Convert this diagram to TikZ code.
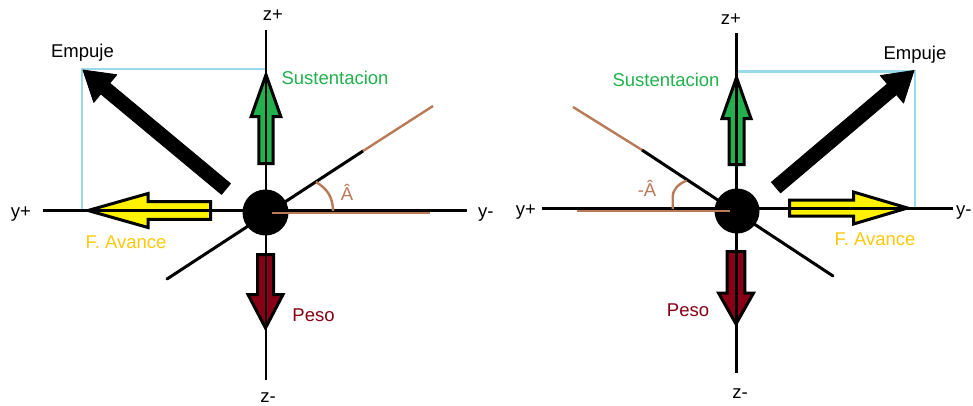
\documentclass[tikz,border=0pt]{standalone}
\usepackage{fontspec}
\setmainfont{Liberation Sans}
\usetikzlibrary{calc}
\definecolor{pgreen}{RGB}{34,177,76}
\definecolor{pred}{RGB}{136,0,21}
\definecolor{pyellow}{RGB}{255,242,0}
\definecolor{pgold}{RGB}{255,201,14}
\definecolor{pbrown}{RGB}{185,122,87}
\definecolor{pblue}{RGB}{153,217,234}
% [#1 style] #2 fill, #3 tail, #4 tip, #5 shaft half width, #6 head half width, #7 head length
\newcommand\blockarr[7][blockarrow]{%
  \path ($(#4)!#7!(#3)$) coordinate (bh);
  \draw[#1, fill=#2] ($(#3)!#5!90:(#4)$) -- ($(bh)!#5!90:(#4)$) -- ($(bh)!#6!90:(#4)$) -- (#4)
    -- ($(bh)!#6!-90:(#4)$) -- ($(bh)!#5!-90:(#4)$) -- ($(#3)!#5!-90:(#4)$) -- cycle;}
\tikzset{
  blockarrow/.style={draw=black, line width=3pt, miter limit=10},
  thrust/.style={draw=black, line width=0.8pt, line join=round},
  axis/.style={draw=black, line width=2.6pt},
  wing/.style={draw=black, line width=3pt},
  brownline/.style={draw=pbrown, line width=2.4pt},
  rectline/.style={draw=pblue, line width=2.2pt},
  lbl/.style={font=\fontsize{18.5}{20}\selectfont, inner sep=0pt, anchor=base},
}
\begin{document}
\begin{tikzpicture}[x=1pt, y=-1pt]
\useasboundingbox (0,0) rectangle (973,405);
\fill[white] (0,0) rectangle (973,405);

% ================= LEFT =================
\coordinate (LC) at (265.5,212.5);
\coordinate (LzT) at (266,30);   \coordinate (LzB) at (266,380);
\coordinate (LyL) at (43,210.5); \coordinate (LyR) at (467,210.5);
\coordinate (LR) at (82,69);     % rectangle corner
\coordinate (LRz) at (266,69);
\coordinate (LRy) at (82,210.5);
% blue rectangle edges
\draw[rectline] (LRy) -- (LR) -- (LRz);
% block arrows
\coordinate (LgT) at (266,163.5); \coordinate (LgP) at (266,74.7);
\blockarr{pgreen}{LgT}{LgP}{7.2pt}{14.8pt}{41.8pt}
\coordinate (LyT) at (210.5,210.5); \coordinate (LyP) at (88,210.5);
\blockarr{pyellow}{LyT}{LyP}{8.8pt}{17pt}{60pt}
\coordinate (LpT) at (265.5,254.5); \coordinate (LpP) at (265.5,328);
\blockarr{pred}{LpT}{LpP}{8pt}{17.5pt}{33.5pt}
% thrust
\coordinate (LeT) at (226,189); \coordinate (LeP) at (83,70);
\blockarr[thrust]{black}{LeT}{LeP}{7pt}{18pt}{29pt}
% axes
\draw[axis] (LzT) -- (LzB);
\draw[axis] (LyL) -- (LyR);
% wing line
\coordinate (LwA) at (167,279); \coordinate (LwB) at (363,151); \coordinate (LwC) at (433,106);
\draw[wing, line cap=round] (LwA) -- (LwB);
\draw[brownline] (LwB) -- (LwC);
% body
\fill[black] (LC) circle (23);
\draw[brownline] (272,212.7) -- (430,212.7);
\draw[brownline] (333,211) .. controls (333,196) and (326,188) .. (316,182);
% labels
\node[lbl] (LzP) at (273,20.7) {z+};
\node[lbl] (LzM) at (268,402) {z-};
\node[lbl] (LyP) at (21,217) {y+};
\node[lbl, anchor=base west] (LyM) at (478,217) {y-};
\node[lbl] (LEm) at (82.5,57.3) {Empuje};
\node[lbl, text=pgreen] (LSu) at (335,84) {Sustentacion};
\node[lbl, text=pgold] (LFa) at (126,248) {F. Avance};
\node[lbl, text=pred] (LPe) at (313.5,321.7) {Peso};
\node[lbl, text=pbrown] (LAn) at (347,200) {Â};

% ================= RIGHT =================
\coordinate (RC) at (737,211);
\coordinate (RzT) at (736.5,33);  \coordinate (RzB) at (736.5,373);
\coordinate (RyL) at (542,208.5); \coordinate (RyR) at (953,208.5);
\coordinate (RR) at (915,71.5);
\coordinate (RRz) at (736.5,71.5);
\coordinate (RRy) at (915,208.5);
\draw[rectline] (RRz) -- (RR) -- (RRy);
\coordinate (RgT) at (736.5,164.5); \coordinate (RgP) at (736.5,77.5);
\blockarr{pgreen}{RgT}{RgP}{7.5pt}{14.5pt}{41pt}
\coordinate (RyT) at (789.5,208); \coordinate (RyP) at (907.5,208);
\blockarr{pyellow}{RyT}{RyP}{8pt}{16pt}{54pt}
\coordinate (RpT) at (736,251.5); \coordinate (RpP) at (736,324);
\blockarr{pred}{RpT}{RpP}{8.8pt}{17.5pt}{31pt}
\coordinate (ReT) at (776,187.5); \coordinate (ReP) at (914,70.5);
\blockarr[thrust]{black}{ReT}{ReP}{7pt}{18pt}{29pt}
\draw[axis] (RzT) -- (RzB);
\draw[axis] (RyL) -- (RyR);
\coordinate (RwA) at (833,276); \coordinate (RwB) at (642,150); \coordinate (RwC) at (573,107);
\draw[wing, line cap=round] (RwA) -- (RwB);
\draw[brownline] (RwB) -- (RwC);
\fill[black] (RC) circle (22.5);
\draw[brownline] (730,210.7) -- (577,210.7);
\draw[brownline] (672.7,209) -- (672.7,197) .. controls (672.7,189) and (679,183.5) .. (686.7,180.7);
\node[lbl] (RzP) at (731,24) {z+};
\node[lbl] (RzM) at (740,398.5) {z-};
\node[lbl] (RyPl) at (526,215) {y+};
\node[lbl, anchor=base west] (RyM) at (956,215) {y-};
\node[lbl] (REm) at (915,59.3) {Empuje};
\node[lbl, text=pgreen] (RSu) at (666,86) {Sustentacion};
\node[lbl, text=pgold] (RFa) at (875,245) {F. Avance};
\node[lbl, text=pred] (RPe) at (688,316.7) {Peso};
\node[lbl, text=pbrown] (RAn) at (647,196.7) {-Â};
\end{tikzpicture}
\end{document}
